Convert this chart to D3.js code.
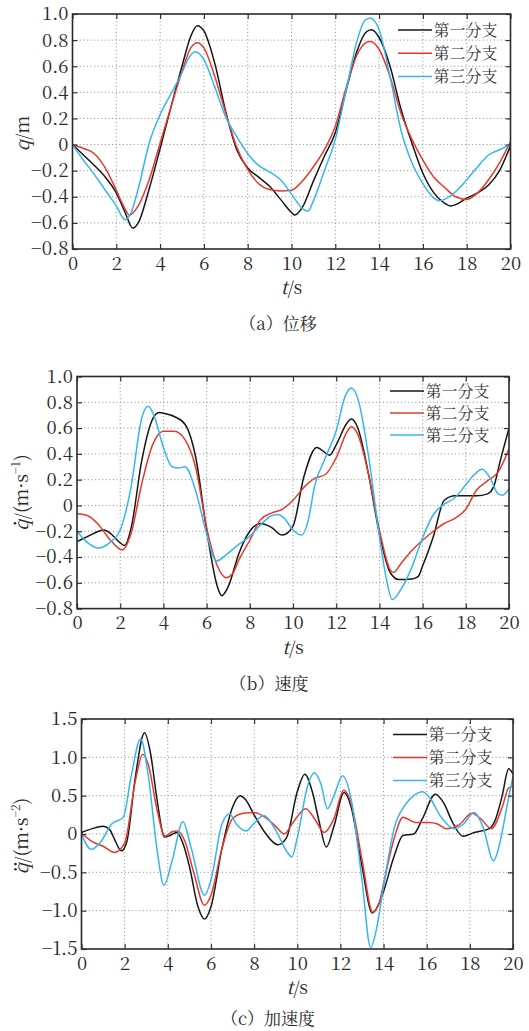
<!DOCTYPE html>
<html>
<head>
<meta charset="utf-8">
<script src="https://cdn.jsdelivr.net/npm/d3@7"></script>
<style>
  body { margin: 0; background: #fff; }
  svg text.serif { font-family: "Noto Serif CJK SC", "Liberation Serif", serif; }
  svg text.cjk { font-family: "Noto Serif CJK SC", "Noto Sans CJK SC", sans-serif; }
</style>
</head>
<body>
<script>
// ---- data ----
const timeTicks = [0, 2, 4, 6, 8, 10, 12, 14, 16, 18, 20];
const dispTicks = [-0.8, -0.6, -0.4, -0.2, 0, 0.2, 0.4, 0.6, 0.8, 1.0];
const velTicks = [-0.8, -0.6, -0.4, -0.2, 0, 0.2, 0.4, 0.6, 0.8, 1.0];
const accTicks = [-1.5, -1.0, -0.5, 0, 0.5, 1.0, 1.5];

const seriesNames = ["第一分支", "第二分支", "第三分支"];
const seriesColors = ["#161616", "#e8372d", "#35b7ee"];

// (a) 位移  [t, q]
const disp1 = [[0,0],[0.5,-0.08],[1,-0.16],[1.5,-0.25],[2,-0.37],[2.4,-0.52],[2.75,-0.64],[3,-0.6],[3.5,-0.34],[4,-0.03],[4.5,0.29],[5,0.6],[5.4,0.83],[5.7,0.91],[6,0.87],[6.5,0.62],[7,0.25],[7.5,-0.04],[8,-0.18],[8.5,-0.25],[9,-0.32],[9.5,-0.42],[10,-0.52],[10.15,-0.54],[10.5,-0.48],[11,-0.28],[11.5,-0.09],[12,0.09],[12.5,0.42],[13,0.72],[13.4,0.86],[13.65,0.88],[14,0.82],[14.5,0.6],[15,0.27],[15.5,0.01],[16,-0.22],[16.5,-0.37],[17,-0.45],[17.25,-0.47],[17.5,-0.46],[18,-0.41],[18.5,-0.37],[19,-0.31],[19.5,-0.2],[20,-0.01]];
const disp2 = [[0,0],[0.5,-0.03],[1,-0.07],[1.5,-0.18],[2,-0.35],[2.3,-0.46],[2.6,-0.54],[3,-0.47],[3.5,-0.27],[4,0.01],[4.5,0.29],[5,0.56],[5.4,0.74],[5.7,0.78],[6,0.74],[6.5,0.52],[7,0.24],[7.5,-0.02],[8,-0.19],[8.5,-0.3],[9,-0.345],[9.5,-0.355],[10,-0.35],[10.5,-0.28],[11,-0.17],[11.5,-0.04],[12,0.14],[12.5,0.44],[13,0.69],[13.4,0.78],[13.6,0.79],[14,0.73],[14.5,0.52],[15,0.24],[15.5,0.04],[16,-0.12],[16.5,-0.25],[17,-0.33],[17.5,-0.4],[18,-0.42],[18.5,-0.37],[19,-0.27],[19.5,-0.14],[20,0.02]];
const disp3 = [[0,0],[0.5,-0.12],[1,-0.23],[1.5,-0.35],[2,-0.47],[2.4,-0.575],[2.6,-0.55],[3,-0.34],[3.5,0.01],[4,0.23],[4.5,0.39],[5,0.55],[5.3,0.66],[5.6,0.71],[6,0.65],[6.5,0.44],[7,0.21],[7.5,0.06],[8,-0.07],[8.5,-0.16],[9,-0.21],[9.5,-0.27],[10,-0.38],[10.5,-0.49],[10.75,-0.51],[11,-0.43],[11.5,-0.2],[12,0.04],[12.5,0.42],[13,0.8],[13.35,0.95],[13.6,0.97],[14,0.88],[14.5,0.52],[15,0.11],[15.5,-0.14],[16,-0.3],[16.5,-0.41],[16.75,-0.43],[17,-0.42],[17.5,-0.36],[18,-0.27],[18.5,-0.17],[19,-0.08],[19.5,-0.04],[20,0]];

// (b) 速度  [t, dq/dt]
const vel1 = [[0,-0.28],[0.5,-0.24],[1,-0.2],[1.25,-0.19],[1.5,-0.21],[2,-0.29],[2.2,-0.31],[2.5,-0.18],[3,0.35],[3.5,0.67],[3.8,0.72],[4,0.715],[4.5,0.69],[5,0.63],[5.5,0.37],[6,-0.19],[6.5,-0.63],[6.7,-0.7],[7,-0.63],[7.5,-0.37],[8,-0.2],[8.5,-0.14],[9,-0.17],[9.5,-0.23],[10,-0.16],[10.5,0.22],[11.1,0.45],[11.7,0.39],[12,0.47],[12.5,0.64],[12.7,0.67],[13,0.6],[13.5,0.24],[14,-0.22],[14.5,-0.52],[14.9,-0.575],[15.5,-0.57],[15.8,-0.55],[16,-0.47],[16.5,-0.24],[17,0.04],[17.5,0.075],[18,0.075],[18.5,0.075],[19,0.09],[19.3,0.15],[19.6,0.35],[20,0.6]];
const vel2 = [[0,-0.065],[0.5,-0.08],[1,-0.15],[1.5,-0.26],[2,-0.34],[2.1,-0.345],[2.5,-0.22],[3,0.17],[3.5,0.47],[4,0.575],[4.5,0.575],[5,0.51],[5.5,0.29],[6,-0.17],[6.5,-0.47],[6.9,-0.56],[7.2,-0.53],[7.5,-0.42],[8,-0.27],[8.5,-0.11],[9,-0.06],[9.5,-0.03],[10,0.04],[10.5,0.14],[11,0.21],[11.5,0.24],[12,0.37],[12.5,0.57],[12.7,0.61],[13,0.55],[13.5,0.24],[14,-0.19],[14.5,-0.5],[14.65,-0.52],[15,-0.45],[15.5,-0.35],[16,-0.27],[16.5,-0.2],[17,-0.14],[17.5,-0.1],[18,-0.03],[18.5,0.12],[19,0.19],[19.5,0.26],[20,0.44]];
const vel3 = [[0,-0.2],[0.5,-0.29],[1,-0.33],[1.5,-0.29],[2,-0.19],[2.5,0.14],[3,0.68],[3.3,0.77],[3.6,0.68],[4,0.45],[4.4,0.3],[4.7,0.29],[5,0.3],[5.5,0.11],[6,-0.22],[6.45,-0.43],[7,-0.37],[7.5,-0.3],[8,-0.24],[8.5,-0.15],[9,-0.08],[9.3,-0.07],[9.6,-0.1],[10,-0.19],[10.4,-0.23],[10.7,-0.12],[11,0.15],[11.5,0.37],[12,0.58],[12.4,0.84],[12.7,0.91],[13,0.83],[13.5,0.38],[14,-0.24],[14.3,-0.55],[14.6,-0.73],[15,-0.65],[15.5,-0.48],[16,-0.25],[16.5,-0.07],[17,0.01],[17.5,0.06],[18,0.16],[18.4,0.24],[18.75,0.28],[19.1,0.22],[19.5,0.09],[19.7,0.08],[20,0.13]];

// (c) 加速度  [t, d2q/dt2]
const acc1 = [[0,0.02],[0.5,0.07],[1,0.1],[1.3,0.06],[1.5,-0.05],[1.85,-0.22],[2.1,-0.1],[2.5,0.75],[2.92,1.32],[3.2,1.05],[3.5,0.45],[3.85,-0.04],[4.1,-0.02],[4.4,0.02],[4.7,-0.12],[5,-0.42],[5.4,-0.95],[5.7,-1.11],[6,-0.95],[6.5,-0.2],[7,0.35],[7.35,0.5],[7.6,0.45],[8,0.25],[8.5,0.02],[9.1,-0.14],[9.5,-0.05],[10,0.55],[10.35,0.78],[10.7,0.55],[11,0.18],[11.35,-0.17],[11.7,0.1],[12.17,0.54],[12.5,0.35],[13,-0.42],[13.48,-1.03],[13.8,-0.9],[14,-0.75],[14.5,-0.28],[14.9,-0.02],[15.4,0.0],[15.8,0.2],[16.4,0.52],[16.8,0.4],[17.2,0.15],[17.68,-0.03],[18.2,0.02],[18.9,0.07],[19.2,0.2],[19.5,0.5],[19.8,0.85],[20,0.78]];
const acc2 = [[0,0.01],[0.5,-0.1],[1,-0.16],[1.53,-0.24],[2,-0.12],[2.5,0.7],[2.84,1.04],[3.1,0.9],[3.5,0.32],[3.87,-0.03],[4.2,0.03],[4.45,0.04],[4.8,-0.1],[5.2,-0.5],[5.7,-0.93],[6,-0.8],[6.5,-0.2],[7,0.2],[7.5,0.27],[8,0.28],[8.5,0.22],[9,0.1],[9.4,0.0],[9.8,0.15],[10.4,0.33],[10.8,0.2],[11.25,0.02],[11.7,0.2],[12.15,0.57],[12.5,0.4],[13,-0.33],[13.5,-1.02],[13.8,-0.9],[14,-0.65],[14.5,-0.05],[14.9,0.22],[15.5,0.15],[16.1,0.15],[16.5,0.13],[16.9,0.07],[17.5,0.12],[18.1,0.27],[18.5,0.2],[19,0.07],[19.5,0.35],[19.8,0.6],[20,0.62]];
const acc3 = [[0,0],[0.45,-0.2],[0.9,-0.1],[1.4,0.13],[1.94,0.22],[2.3,0.75],[2.74,1.24],[3.1,0.75],[3.5,-0.2],[3.82,-0.67],[4.2,-0.35],[4.7,0.16],[5.1,-0.2],[5.7,-0.8],[6,-0.6],[6.5,0.12],[6.86,0.26],[7.2,0.12],[7.63,0.04],[8,0.14],[8.45,0.24],[9,0.05],[9.5,-0.22],[9.75,-0.3],[10,-0.05],[10.5,0.65],[10.8,0.8],[11.1,0.65],[11.4,0.33],[11.7,0.5],[12.1,0.76],[12.5,0.45],[13,-0.6],[13.4,-1.48],[13.7,-1.2],[14,-0.68],[14.5,0.08],[15,0.38],[15.4,0.5],[15.8,0.55],[16.2,0.45],[16.6,0.25],[17.3,0.07],[17.7,0.13],[18.2,0.28],[18.6,0.1],[19.1,-0.35],[19.3,-0.22],[19.5,0.03],[19.7,0.33],[19.85,0.55],[20,0.75]];

// ---- layout ----
const W = 529, H = 1031;
const FS = 18.5;

const panels = [
  { key: "a", box: { l: 72.5, r: 510.5, t: 14, b: 249 }, ticks: dispTicks, series: [disp1, disp2, disp3],
    legend: { x: 398, y: 30, step: 23.2 }, ylab: { x: 28.5, dy: 2, unit: "/m", sup: null, dots: 0 },
    caption: { text: "（a）位移", x: 278, y: 330 } },
  { key: "b", box: { l: 77, r: 509, t: 376.5, b: 608.6 }, ticks: velTicks, series: [vel1, vel2, vel3],
    legend: { x: 390, y: 391, step: 22 }, ylab: { x: 27.5, dy: 0, unit: "/(m·s", sup: "−1", dots: 1 },
    caption: { text: "（b）速度", x: 269, y: 690 } },
  { key: "c", box: { l: 81.5, r: 513, t: 719, b: 949 }, ticks: accTicks, series: [acc1, acc2, acc3],
    legend: { x: 393, y: 734.5, step: 23 }, ylab: { x: 28, dy: 2, unit: "/(m·s", sup: "−2", dots: 2 },
    caption: { text: "（c）加速度", x: 268, y: 1025 } }
];

const svg = d3.select("body").append("svg")
  .attr("width", W).attr("height", H);

const fmtY = d => d === 0 ? "0" : d3.format(".1f")(d);

panels.forEach(p => {
  const b = p.box;
  const x = d3.scaleLinear().domain([0, 20]).range([b.l, b.r]);
  const y = d3.scaleLinear().domain(d3.extent(p.ticks)).range([b.b, b.t]);
  const g = svg.append("g").attr("class", "panel-" + p.key);

  svg.append("clipPath").attr("id", "clip" + p.key)
    .append("rect").attr("x", b.l).attr("y", b.t).attr("width", b.r - b.l).attr("height", b.b - b.t);

  // dotted grid
  g.append("g").selectAll("line").data(timeTicks.slice(1, -1)).join("line")
    .attr("x1", d => x(d)).attr("x2", d => x(d)).attr("y1", b.t).attr("y2", b.b)
    .attr("stroke", "#8a8a8a").attr("stroke-width", 1).attr("stroke-dasharray", "1,2.6");
  g.append("g").selectAll("line").data(p.ticks.slice(1, -1)).join("line")
    .attr("y1", d => y(d)).attr("y2", d => y(d)).attr("x1", b.l).attr("x2", b.r)
    .attr("stroke", "#8a8a8a").attr("stroke-width", 1).attr("stroke-dasharray", "1,2.6");

  // curves
  const line = d3.line().x(d => x(d[0])).y(d => y(d[1])).curve(d3.curveMonotoneX);
  g.append("g").attr("clip-path", "url(#clip" + p.key + ")")
    .selectAll("path").data(p.series).join("path")
    .attr("d", line).attr("fill", "none")
    .attr("stroke", (d, i) => seriesColors[i]).attr("stroke-width", 1.5);

  // axes with inward ticks
  const styleAxis = sel => {
    sel.attr("font-family", null).attr("font-size", null);
    sel.select(".domain").remove();
    sel.selectAll(".tick line").attr("stroke", "#333").attr("stroke-width", 1.2);
    sel.selectAll(".tick text").attr("class", "serif").attr("fill", "#2a2a2a").attr("font-size", FS);
  };
  g.append("g").attr("transform", `translate(0,${b.b})`)
    .call(d3.axisBottom(x).tickValues(timeTicks).tickSizeInner(-5).tickSizeOuter(0).tickPadding(7.5))
    .call(styleAxis);
  g.append("g").attr("transform", `translate(0,${b.t})`)
    .call(d3.axisTop(x).tickValues(timeTicks).tickSizeInner(-5).tickSizeOuter(0).tickFormat(""))
    .call(styleAxis);
  g.append("g").attr("transform", `translate(${b.l},0)`)
    .call(d3.axisLeft(y).tickValues(p.ticks).tickSizeInner(-5).tickSizeOuter(0).tickPadding(4).tickFormat(fmtY))
    .call(styleAxis);
  g.append("g").attr("transform", `translate(${b.r},0)`)
    .call(d3.axisRight(y).tickValues(p.ticks).tickSizeInner(-5).tickSizeOuter(0).tickFormat(""))
    .call(styleAxis);

  // frame
  g.append("rect").attr("x", b.l).attr("y", b.t).attr("width", b.r - b.l).attr("height", b.b - b.t)
    .attr("fill", "none").attr("stroke", "#2a2a2a").attr("stroke-width", 1.6);

  // x label t/s
  const xl = g.append("text").attr("class", "serif").attr("x", (b.l + b.r) / 2).attr("y", b.b + 45)
    .attr("text-anchor", "middle").attr("font-size", FS).attr("fill", "#2a2a2a");
  xl.append("tspan").attr("font-style", "italic").text("t");
  xl.append("tspan").text("/s");

  // y label (q with dot accents for the derivatives)
  const yg = g.append("g")
    .attr("transform", `translate(${p.ylab.x},${(b.t + b.b) / 2 + p.ylab.dy}) rotate(-90)`);
  const yt = yg.append("text").attr("class", "serif").attr("font-size", FS).attr("fill", "#2a2a2a");
  const q = yt.append("tspan").attr("font-style", "italic").text("q");
  yt.append("tspan").text(p.ylab.unit);
  if (p.ylab.sup) {
    yt.append("tspan").attr("dy", -8).attr("font-size", 11.5).text(p.ylab.sup);
    yt.append("tspan").attr("dy", 8).text(")");
  }
  const w = yt.node().getComputedTextLength();
  yt.attr("x", -w / 2);
  if (p.ylab.dots) {
    const qw = q.node().getComputedTextLength();
    const cx = -w / 2 + qw / 2 + 2;
    const offs = p.ylab.dots === 1 ? [0] : [-2.6, 2.6];
    yg.selectAll("circle.dot").data(offs).join("circle").attr("class", "dot")
      .attr("cx", d => cx + d).attr("cy", -12.5).attr("r", 1.3).attr("fill", "#2a2a2a");
  }

  // legend
  const lg = g.append("g").selectAll("g").data(seriesNames).join("g")
    .attr("transform", (d, i) => `translate(${p.legend.x},${p.legend.y + i * p.legend.step})`);
  lg.append("line").attr("x1", 0).attr("x2", 34)
    .attr("stroke", (d, i) => seriesColors[i]).attr("stroke-width", 1.5);
  lg.append("text").attr("class", "cjk").attr("x", 35.5).attr("dy", "0.36em")
    .attr("font-size", 16).attr("fill", "#333")
    .text(d => d);

  // caption
  g.append("text").attr("class", "cjk").attr("x", p.caption.x).attr("y", p.caption.y)
    .attr("text-anchor", "middle")
    .attr("font-size", 17).attr("fill", "#2a2a2a").text(p.caption.text);
});
</script>
</body>
</html>
